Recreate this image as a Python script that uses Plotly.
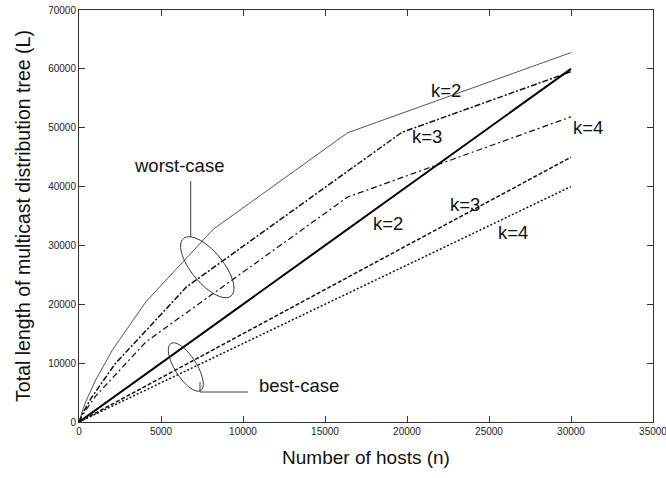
import math
import plotly.graph_objects as go

# ---- data ----
n_worst_k2 = [0, 256, 512, 1024, 2048, 4096, 8192, 16384, 30000]
L_worst_k2 = [0, 2302, 4094, 7166, 12286, 20478, 32766, 49150, 62766]
n_worst_k3 = [0, 243, 729, 2187, 6561, 19683, 30000]
L_worst_k3 = [0, 1578, 4008, 9840, 22962, 49206, 59523]
n_worst_k4 = [0, 256, 1024, 4096, 16384, 30000]
L_worst_k4 = [0, 1364, 4436, 13652, 38228, 51844]
n_best = [0, 30000]
L_best_k2 = [0, 60000]
L_best_k3 = [0, 45000]
L_best_k4 = [0, 40000]

x_ticks = [0, 5000, 10000, 15000, 20000, 25000, 30000, 35000]
y_ticks = [0, 10000, 20000, 30000, 40000, 50000, 60000, 70000]

W, H = 666, 478
ML, MR, MT, MB = 79, 13, 10, 56
PW, PH = W - ML - MR, H - MT - MB
FONT = "Liberation Sans, Arial, Helvetica, sans-serif"


def px(xp, yp):
    return (xp - ML) / PW, (H - MB - yp) / PH


fig = go.Figure()
series = [
    (n_worst_k2, L_worst_k2, dict(color="#555555", width=1)),
    (n_worst_k3, L_worst_k3, dict(color="#111111", width=1.5, dash="6px,2px,2px,2px")),
    (n_worst_k4, L_worst_k4, dict(color="#111111", width=1.2, dash="6px,3px,2px,3px")),
    (n_best, L_best_k2, dict(color="#000000", width=2)),
    (n_best, L_best_k3, dict(color="#111111", width=1.5, dash="4px,2px")),
    (n_best, L_best_k4, dict(color="#111111", width=1.5, dash="2px,2px")),
]
for xs, ys, ln in series:
    fig.add_trace(go.Scatter(x=xs, y=ys, mode="lines", line=ln, showlegend=False,
                             hoverinfo="skip"))

# ---- labels ----
labels = [
    ("k=2", 446, 90), ("k=3", 427, 136), ("k=4", 588, 127),
    ("k=2", 388, 223), ("k=3", 465, 204), ("k=4", 513, 232),
    ("worst-case", 179, 165), ("best-case", 298.5, 385),
]
for t, xp, yp in labels:
    xa, ya = px(xp, yp)
    fig.add_annotation(x=xa, y=ya, xref="paper", yref="paper", text=t,
                       showarrow=False, xanchor="center", yanchor="middle",
                       font=dict(family=FONT, size=18.5, color="#111111"))


# ---- ellipses and leader lines ----
def ellipse_path(cx, cy, a, b, theta_deg, n=60):
    th = math.radians(theta_deg)
    pts = []
    for i in range(n):
        t = 2 * math.pi * i / n
        ex, ey = a * math.cos(t), b * math.sin(t)
        xp = cx + ex * math.cos(th) - ey * math.sin(th)
        yp = cy + ex * math.sin(th) + ey * math.cos(th)
        pts.append(px(xp, yp))
    return "M " + " L ".join(f"{x:.5f},{y:.5f}" for x, y in pts) + " Z"


for cx, cy, a, b, th in [(207.3, 267.2, 37.3, 15.8, 50.5), (185.8, 367, 27.8, 10.8, 57.6)]:
    fig.add_shape(type="path", xref="paper", yref="paper",
                  path=ellipse_path(cx, cy, a, b, th),
                  line=dict(color="#333333", width=1))

for (x0, y0), (x1, y1) in [((190.7, 181), (190.7, 237)),
                           ((200, 382), (200, 392)),
                           ((200, 392), (248, 392))]:
    a0, b0 = px(x0, y0)
    a1, b1 = px(x1, y1)
    fig.add_shape(type="line", xref="paper", yref="paper", x0=a0, y0=b0, x1=a1, y1=b1,
                  line=dict(color="#444444", width=1))

axis_common = dict(showline=True, linecolor="#333333", linewidth=1, mirror="ticks",
                   ticks="inside", ticklen=6, tickcolor="#333333", showgrid=False,
                   zeroline=False, tickformat="d", ticklabeloverflow="allow",
                   automargin=False,
                   tickfont=dict(family=FONT, size=10, color="#222222"))
fig.update_xaxes(range=[0, 35000], tickvals=x_ticks,
                 title=dict(text="Number of hosts (n)",
                            font=dict(family=FONT, size=19, color="#111111"), standoff=14),
                 **axis_common)
fig.update_yaxes(range=[0, 70000], tickvals=y_ticks,
                 title=dict(text="Total length of multicast distribution tree (L)",
                            font=dict(family=FONT, size=19.5, color="#111111"), standoff=12),
                 **axis_common)
fig.update_layout(width=W, height=H, margin=dict(l=ML, r=MR, t=MT, b=MB),
                  plot_bgcolor="white", paper_bgcolor="white")

fig.write_html("out.html")
